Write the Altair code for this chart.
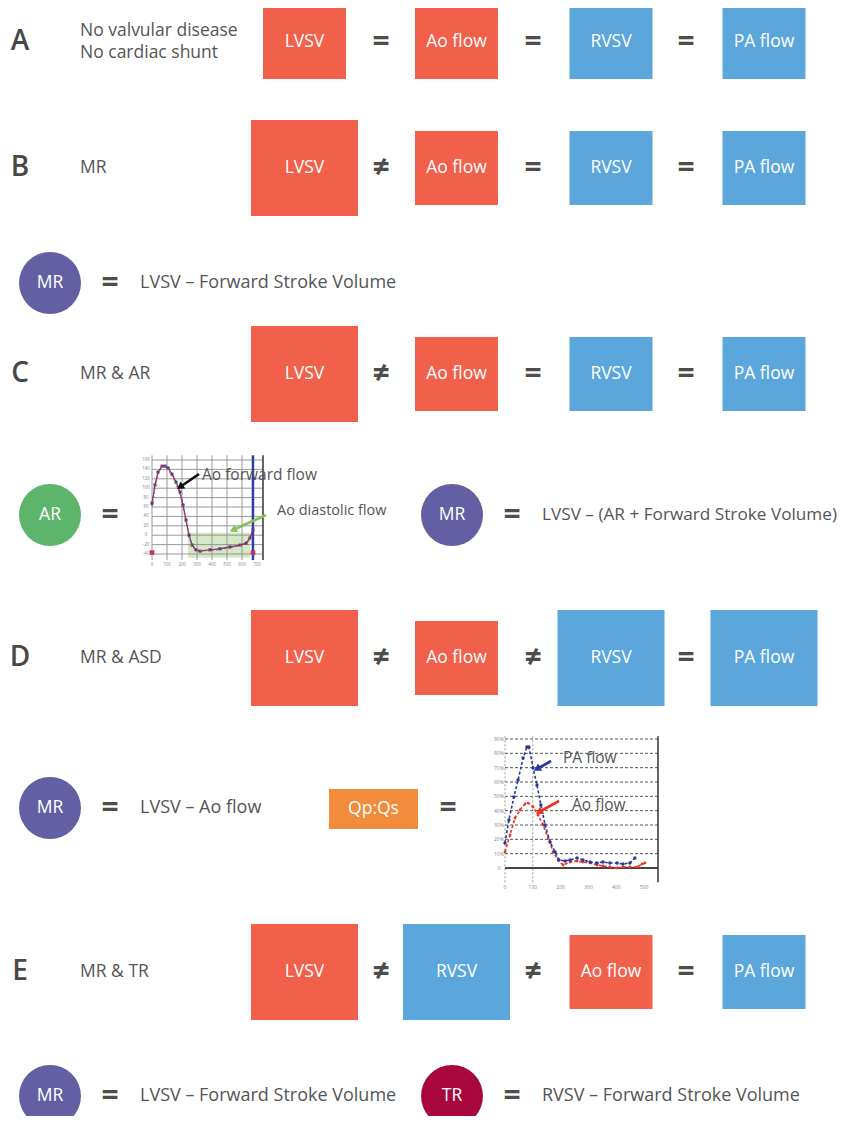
import math
import altair as alt
import pandas as pd

# ---------------------------------------------------------------- content
row_letters = ["A", "B", "C", "D", "E"]
row_desc = [["No valvular disease", "No cardiac shunt"], ["MR"], ["MR & AR"], ["MR & ASD"], ["MR & TR"]]
box_labels = [
    ["LVSV", "Ao flow", "RVSV", "PA flow"],
    ["LVSV", "Ao flow", "RVSV", "PA flow"],
    ["LVSV", "Ao flow", "RVSV", "PA flow"],
    ["LVSV", "Ao flow", "RVSV", "PA flow"],
    ["LVSV", "RVSV", "Ao flow", "PA flow"],
]
box_large = [
    [0, 0, 0, 0],
    [1, 0, 0, 0],
    [1, 0, 0, 0],
    [1, 0, 1, 1],
    [1, 1, 0, 0],
]
row_signs = [["=", "=", "="], ["≠", "=", "="], ["≠", "=", "="], ["≠", "≠", "="], ["≠", "≠", "="]]

circle_labels = ["MR", "AR", "MR", "MR", "MR", "TR"]
formula_texts = [
    "LVSV – Forward Stroke Volume",
    "LVSV – (AR + Forward Stroke Volume)",
    "LVSV – Ao flow",
    "LVSV – Forward Stroke Volume",
    "RVSV – Forward Stroke Volume",
]
ratio_label = "Qp:Qs"

# AR panel (aortic flow curve): time (ms) and flow
ar_t = [0, 20, 40, 67, 87, 107, 133, 160, 187, 207, 227, 247, 267, 293, 320, 387, 453, 520, 587, 627, 653, 673]
ar_blue = [68, 107, 134, 147, 147, 143, 130, 113, 92, 64, 32, 0, -21, -31, -34, -31, -29, -25, -21, -17, -6, 11]
ar_red = [62, 103, 132, 148, 146, 141, 128, 110, 90, 62, 30, -2, -22, -32, -33, -32, -30, -26, -22, -17, -8, 14]
ar_grid_t = [0, 100, 200, 300, 400, 500, 600]
ar_grid_y = [-40, -20, 0, 20, 40, 60, 80, 100, 120, 140, 160]
ar_ytick = ["-40", "-20", "0", "20", "40", "60", "80", "100", "120", "140", "160"]
ar_xtick_t = [0, 100, 200, 300, 400, 500, 600, 700]
ar_xtick = ["0", "100", "200", "300", "400", "500", "600", "700"]

# Qp:Qs panel: time (ms) and flow for PA and Ao
pa_t = [0, 14, 32, 47, 65, 79, 86, 101, 115, 129, 144, 162, 180, 194, 216, 234, 259, 280, 306, 331, 352, 377, 403, 424, 449, 467]
pa_f = [17.4, 33.5, 49.5, 61.4, 76.7, 84.4, 84.4, 69.8, 57.9, 44.0, 30.0, 18.1, 11.2, 5.6, 4.9, 5.6, 7.0, 5.6, 4.2, 3.5, 4.2, 3.5, 3.5, 2.8, 3.5, 7.0]
ao_t = [0, 18, 36, 54, 72, 83, 101, 119, 137, 155, 173, 191, 209, 234, 259, 280, 306, 331, 352, 377, 403, 424, 449, 475, 493, 503]
ao_f = [11.2, 23.0, 34.9, 40.5, 44.7, 45.3, 42.6, 37.0, 30.0, 20.9, 11.2, 5.6, 2.1, 4.2, 4.9, 4.2, 3.5, 2.1, 1.4, 0.7, 0.0, 0.7, 0.7, 0.7, 2.8, 3.5]
qp_grid_y = [10, 20, 30, 40, 50, 60, 70, 80, 90]
qp_ytick_v = [0, 10, 20, 30, 40, 50, 60, 70, 80, 90]
qp_ytick = ["0", "10%", "20%", "30%", "40%", "50%", "60%", "70%", "80%", "90%"]
qp_xtick_t = [0, 100, 200, 300, 400, 500]
qp_xtick = ["0", "100", "200", "300", "400", "500"]

annot_labels = ["Ao forward flow", "Ao diastolic flow", "PA flow", "Ao flow"]

# ---------------------------------------------------------------- styles / layout
FONT = "Open Sans"
TXT = "#555555"
BOX_FILL = {"LVSV": "#F0604A", "Ao flow": "#F0604A", "RVSV": "#5BA6DA", "PA flow": "#5BA6DA"}
CIRCLE_FILL = {"MR": "#645FA3", "AR": "#5DB56B", "TR": "#A8083E"}
RATIO_FILL = "#F28B3C"

W, H = 839, 1108
XS = alt.Scale(domain=[8, 8 + W], range=[0, W], nice=False, zero=False)
YS = alt.Scale(domain=[8, 8 + H], range=[0, H], nice=False, zero=False)

ROW_Y = [42, 168, 374, 658, 972]
SLOT_X = [304.5, 456.5, 611, 764]
SIGN_X = [381, 533, 686]
SMALL = (83, 74)
LARGE = (107, 96)
LETTER_X = 20
DESC_X = 80
FORM_Y = [283, 515, 808, 1096]
CIRCLE_X = [50, 452]
CIRCLE_D = 62
circle_pos = [(0, 0), (1, 0), (1, 1), (2, 0), (3, 0), (3, 1)]
text_pos = [(0, 0), (1, 1), (2, 0), (3, 0), (3, 1)]
text_size = [18, 17.2, 18, 18, 18]

# ---------------------------------------------------------------- tables
boxes = []
for r, labels in enumerate(box_labels):
    for s, lab in enumerate(labels):
        w, h = LARGE if box_large[r][s] else SMALL
        cx, cy = SLOT_X[s], ROW_Y[r]
        boxes.append(dict(x1=cx - w / 2, x2=cx + w / 2, y1=cy - h / 2, y2=cy + h / 2,
                          cx=cx, cy=cy, label=lab, fill=BOX_FILL[lab]))
boxes = pd.DataFrame(boxes)

signs = pd.DataFrame([dict(x=SIGN_X[i], y=ROW_Y[r], s=sg)
                      for r, row in enumerate(row_signs) for i, sg in enumerate(row)])
letters = pd.DataFrame(dict(x=[LETTER_X] * 5, y=ROW_Y, s=row_letters))
desc = []
for r, lines in enumerate(row_desc):
    n = len(lines)
    for i, ln in enumerate(lines):
        desc.append(dict(x=DESC_X, y=ROW_Y[r] + (i - (n - 1) / 2) * 22, s=ln))
desc = pd.DataFrame(desc)

circles = pd.DataFrame([dict(x=CIRCLE_X[c], y=FORM_Y[r], s=lab, fill=CIRCLE_FILL[lab])
                        for (r, c), lab in zip(circle_pos, circle_labels)])
eqs = [dict(x=CIRCLE_X[c] + 60, y=FORM_Y[r], s="=") for (r, c) in circle_pos]
eqs.append(dict(x=448, y=FORM_Y[2], s="="))
eqs = pd.DataFrame(eqs)
ftexts = pd.DataFrame([dict(x=CIRCLE_X[c] + 90, y=FORM_Y[r], s=t, size=sz)
                       for (r, c), t, sz in zip(text_pos, formula_texts, text_size)])
ratio = pd.DataFrame([dict(x1=329, x2=418, y1=789, y2=829, cx=373.5, cy=809, s=ratio_label)])

annots = pd.DataFrame(dict(x=[202, 277, 563, 572], y=[475, 511, 758, 805], s=annot_labels,
                           size=[15.5, 14.5, 15.5, 15.5]))


def arrow(x1, y1, x2, y2, color):
    ang = math.degrees(math.atan2(x2 - x1, -(y2 - y1))) % 360
    return dict(x1=x1, y1=y1, x2=x2, y2=y2, color=color, angle=ang)


arrows = pd.DataFrame([
    arrow(199, 474, 180, 487, "#111111"),
    arrow(266, 515, 233, 530, "#86C05A"),
    arrow(551, 761, 537, 769, "#2B3A98"),
    arrow(559, 801, 539, 812, "#E8352A"),
])


def X(f):
    return alt.X(f, type="quantitative", scale=XS, axis=None)


def Y(f):
    return alt.Y(f, type="quantitative", scale=YS, axis=None)


def text_layer(df, **kw):
    base = dict(font=FONT, color=TXT, baseline="middle")
    base.update(kw)
    return alt.Chart(df).mark_text(**base).encode(x=X("x"), y=Y("y"), text="s:N")


main = alt.layer(
    alt.Chart(boxes).mark_rect().encode(x=X("x1"), x2="x2:Q", y=Y("y1"), y2="y2:Q",
                                        color=alt.Color("fill:N", scale=None)),
    alt.Chart(boxes).mark_text(font=FONT, fontSize=17.5, color="white").encode(
        x=X("cx"), y=Y("cy"), text="label:N"),
    text_layer(signs, fontSize=30, fontWeight="bold", color="#4d4d4d"),
    text_layer(letters, fontSize=28, fontWeight=600, color="#484848"),
    text_layer(desc, fontSize=17.5, align="left"),
    alt.Chart(circles).mark_circle(size=CIRCLE_D ** 2, opacity=1).encode(
        x=X("x"), y=Y("y"), color=alt.Color("fill:N", scale=None)),
    text_layer(circles, fontSize=17.5, color="white"),
    text_layer(eqs, fontSize=30, fontWeight="bold", color="#4d4d4d"),
    alt.Chart(ftexts).mark_text(font=FONT, color=TXT, baseline="middle", align="left").encode(
        x=X("x"), y=Y("y"), text="s:N", size=alt.Size("size:Q", scale=None)),
    alt.Chart(ratio).mark_rect(color=RATIO_FILL).encode(x=X("x1"), x2="x2:Q", y=Y("y1"), y2="y2:Q"),
    alt.Chart(ratio).mark_text(font=FONT, fontSize=17.5, color="white").encode(
        x=X("cx"), y=Y("cy"), text="s:N"),
)

# ---------------------------------------------------------------- AR mini chart
XA = alt.Scale(domain=[0, 740], range=[144, 255], nice=False, zero=False)
YA = alt.Scale(domain=[-40, 160], range=[546, 452], nice=False, zero=False)


def XAe(f):
    return alt.X(f, type="quantitative", scale=XA, axis=None)


def YAe(f):
    return alt.Y(f, type="quantitative", scale=YA, axis=None)


ar_df = pd.DataFrame(dict(t=ar_t, blue=ar_blue, red=ar_red))
ar_vgrid = pd.DataFrame(dict(t=ar_grid_t, lo=[-53] * len(ar_grid_t), hi=[170] * len(ar_grid_t)))
ar_hgrid = pd.DataFrame(dict(y=ar_grid_y, lo=[0] * len(ar_grid_y), hi=[740] * len(ar_grid_y)))
ar_shade = pd.DataFrame(dict(t1=[240], t2=[653], y1=[-48], y2=[5]))
ar_edges = pd.DataFrame(dict(t=[673, 740], lo=[-53, -53], hi=[170, 170], c=["#2E3F9E", "#333333"], w=[2.5, 1.5]))
ar_yt = pd.DataFrame(dict(t=[-40] * len(ar_ytick), y=ar_grid_y, s=ar_ytick))
ar_xt = pd.DataFrame(dict(t=ar_xtick_t, y=[-63] * len(ar_xtick), s=ar_xtick))
ar_marks = pd.DataFrame(dict(t=[0, 673], y=[-37, -37]))

mini_ar = alt.layer(
    alt.Chart(ar_shade).mark_rect(color="#CFE6BF", opacity=0.9).encode(
        x=XAe("t1"), x2="t2:Q", y=YAe("y1"), y2="y2:Q"),
    alt.Chart(ar_vgrid).mark_rule(color="#8f8f8f", strokeWidth=0.9).encode(x=XAe("t"), y=YAe("lo"), y2="hi:Q"),
    alt.Chart(ar_hgrid).mark_rule(color="#8f8f8f", strokeWidth=0.9).encode(y=YAe("y"), x=XAe("lo"), x2="hi:Q"),
    alt.Chart(ar_edges).mark_rule().encode(x=XAe("t"), y=YAe("lo"), y2="hi:Q",
                                           color=alt.Color("c:N", scale=None),
                                           strokeWidth=alt.StrokeWidth("w:Q", scale=None)),
    alt.Chart(ar_df).mark_line(color="#2E3F9E", strokeWidth=1.2,
                               point=alt.OverlayMarkDef(shape="square", size=9, filled=True, color="#2E3F9E")).encode(
        x=XAe("t"), y=YAe("blue")),
    alt.Chart(ar_df).mark_line(color="#E8352A", strokeWidth=1.6, strokeDash=[2, 2]).encode(
        x=XAe("t"), y=YAe("red")),
    alt.Chart(ar_marks).mark_point(shape="square", size=22, filled=True, color="#C0306A", opacity=1).encode(
        x=XAe("t"), y=YAe("y")),
    alt.Chart(ar_yt).mark_text(font=FONT, fontSize=4.5, color="#888888").encode(
        x=XAe("t"), y=YAe("y"), text="s:N"),
    alt.Chart(ar_xt).mark_text(font=FONT, fontSize=4.5, color="#888888").encode(
        x=XAe("t"), y=YAe("y"), text="s:N"),
)

# ---------------------------------------------------------------- Qp:Qs mini chart
XQ = alt.Scale(domain=[0, 550], range=[497, 650], nice=False, zero=False)
YQ = alt.Scale(domain=[0, 90], range=[860, 731], nice=False, zero=False)


def XQe(f):
    return alt.X(f, type="quantitative", scale=XQ, axis=None)


def YQe(f):
    return alt.Y(f, type="quantitative", scale=YQ, axis=None)


pa_df = pd.DataFrame(dict(t=pa_t, f=pa_f))
ao_df = pd.DataFrame(dict(t=ao_t, f=ao_f))
qp_hgrid = pd.DataFrame(dict(y=qp_grid_y, lo=[0] * len(qp_grid_y), hi=[550] * len(qp_grid_y)))
qp_zero = pd.DataFrame(dict(y=[0], lo=[0], hi=[550]))
qp_vdash = pd.DataFrame(dict(t=[0, 100], lo=[-10, -10], hi=[92, 92]))
qp_right = pd.DataFrame(dict(t=[550], lo=[-10], hi=[92]))
qp_yt = pd.DataFrame(dict(t=[-22] * len(qp_ytick), y=qp_ytick_v, s=qp_ytick))
qp_xt = pd.DataFrame(dict(t=qp_xtick_t, y=[-13] * len(qp_xtick), s=qp_xtick))

mini_qp = alt.layer(
    alt.Chart(qp_hgrid).mark_rule(color="#555555", strokeWidth=1, strokeDash=[3, 2]).encode(
        y=YQe("y"), x=XQe("lo"), x2="hi:Q"),
    alt.Chart(qp_vdash).mark_rule(color="#999999", strokeWidth=1, strokeDash=[2, 2]).encode(
        x=XQe("t"), y=YQe("lo"), y2="hi:Q"),
    alt.Chart(qp_right).mark_rule(color="#333333", strokeWidth=1.5).encode(
        x=XQe("t"), y=YQe("lo"), y2="hi:Q"),
    alt.Chart(qp_zero).mark_rule(color="#444444", strokeWidth=1.8).encode(
        y=YQe("y"), x=XQe("lo"), x2="hi:Q"),
    alt.Chart(ao_df).mark_line(color="#E8352A", strokeWidth=1.6, strokeDash=[3, 2],
                               point=alt.OverlayMarkDef(size=8, filled=True, color="#E8352A")).encode(
        x=XQe("t"), y=YQe("f")),
    alt.Chart(pa_df).mark_line(color="#2B3A98", strokeWidth=1.6, strokeDash=[3, 2],
                               point=alt.OverlayMarkDef(size=12, filled=True, color="#2B3A98")).encode(
        x=XQe("t"), y=YQe("f")),
    alt.Chart(qp_yt).mark_text(font=FONT, fontSize=5, color="#888888").encode(
        x=XQe("t"), y=YQe("y"), text="s:N"),
    alt.Chart(qp_xt).mark_text(font=FONT, fontSize=5, color="#888888").encode(
        x=XQe("t"), y=YQe("y"), text="s:N"),
)

# ---------------------------------------------------------------- annotations (page coords)
annot_layer = alt.layer(
    alt.Chart(annots).mark_text(font=FONT, color=TXT, align="left", baseline="middle").encode(
        x=X("x"), y=Y("y"), text="s:N", size=alt.Size("size:Q", scale=None)),
    alt.Chart(arrows).mark_rule(strokeWidth=2.6).encode(
        x=X("x1"), y=Y("y1"), x2="x2:Q", y2="y2:Q", color=alt.Color("color:N", scale=None)),
    alt.Chart(arrows).mark_point(shape="triangle-up", size=70, filled=True, opacity=1).encode(
        x=X("x2"), y=Y("y2"), color=alt.Color("color:N", scale=None),
        angle=alt.Angle("angle:Q", scale=None)),
)

chart = alt.layer(main, mini_ar, mini_qp, annot_layer).resolve_scale(
    x="independent", y="independent"
).properties(
    width=W, height=H, padding=0, autosize=alt.AutoSizeParams(type="none")
).configure_view(stroke=None)

chart.save("out.html", embed_options={"renderer": "svg", "actions": False})
